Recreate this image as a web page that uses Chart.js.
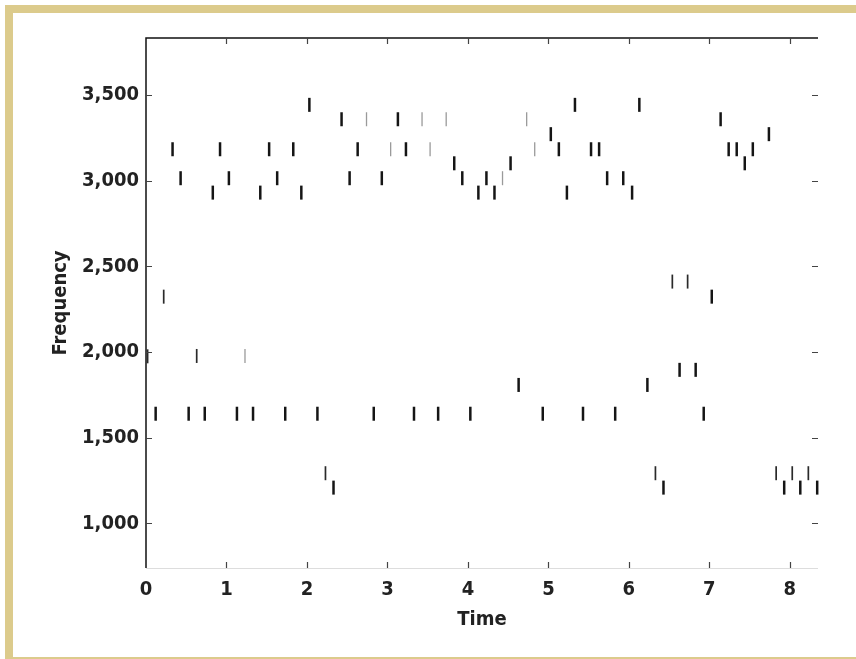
<!DOCTYPE html>
<html>
<head>
<meta charset="utf-8">
<script src="https://cdn.jsdelivr.net/npm/chart.js@4"></script>
<style>
  body { margin: 0; background: #fff; }
  canvas { display: block; }
</style>
</head>
<body>
<canvas id="chart" width="856" height="659"></canvas>
<script>
// tick values for both axes
const xTickValues = [0, 1, 2, 3, 4, 5, 6, 7, 8];
const yTickValues = [1000, 1500, 2000, 2500, 3000, 3500];

// strong (dark) note marks
const strongTime = [0.12, 0.33, 0.43, 0.53, 0.73, 0.83, 0.92, 1.03, 1.13, 1.33, 1.42, 1.53, 1.63, 1.73,
  1.83, 1.93, 2.03, 2.13, 2.33, 2.43, 2.53, 2.63, 2.83, 2.93, 3.13, 3.23, 3.33, 3.63, 3.83, 3.93,
  4.03, 4.13, 4.23, 4.33, 4.53, 4.63, 4.93, 5.03, 5.13, 5.23, 5.33, 5.43, 5.53, 5.63, 5.73, 5.83,
  5.93, 6.04, 6.13, 6.23, 6.43, 6.63, 6.83, 6.93, 7.03, 7.14, 7.24, 7.34, 7.44, 7.54, 7.74, 7.93,
  8.13, 8.34];
const strongFreq = [1640, 3183, 3014, 1640, 1640, 2930, 3183, 3014, 1640, 1640, 2930, 3183, 3014, 1640,
  3183, 2930, 3442, 1640, 1209, 3358, 3014, 3183, 1640, 3014, 3358, 3183, 1640, 1640, 3101, 3014,
  1640, 2930, 3014, 2930, 3101, 1808, 1640, 3271, 3183, 2930, 3442, 1640, 3183, 3183, 3014, 1640,
  3014, 2930, 3442, 1808, 1209, 1896, 1896, 1640, 2323, 3358, 3183, 3183, 3101, 3183, 3271, 1209,
  1209, 1209];

// thinner marks
const mediumTime = [0.02, 0.22, 0.63, 2.23, 6.33, 6.54, 6.73, 7.83, 8.03, 8.23];
const mediumFreq = [1975, 2323, 1977, 1293, 1293, 2411, 2411, 1293, 1293, 1293];

// faint grey marks
const faintTime = [1.23, 2.74, 3.04, 3.43, 3.53, 3.73, 4.43, 4.73, 4.83];
const faintFreq = [1977, 3358, 3183, 3358, 3183, 3358, 3014, 3358, 3183];

function toPoints(times, freqs) {
  return times.map((t, i) => ({ x: t, y: freqs[i] }));
}

const labelFont = { family: "'Liberation Sans Narrow', 'DejaVu Sans Condensed', sans-serif", size: 20, weight: "bold" };

// tan frame around the figure
const framePlugin = {
  id: "frame",
  beforeDraw(chart) {
    const ctx = chart.ctx;
    ctx.save();
    ctx.fillStyle = "#dccb8c";
    ctx.fillRect(5, 5, 851, 8);
    ctx.fillRect(5, 5, 8, 654);
    ctx.fillRect(5, 657, 851, 2);
    ctx.restore();
  }
};

// axis lines and inward ticks on all four sides
const axesPlugin = {
  id: "axesBox",
  afterDatasetsDraw(chart) {
    const { ctx, chartArea: { left, right, top, bottom }, scales: { x, y } } = chart;
    ctx.save();
    ctx.lineWidth = 1;
    ctx.strokeStyle = "#dddddd";
    ctx.beginPath();
    ctx.moveTo(left, bottom + 0.5);
    ctx.lineTo(right, bottom + 0.5);
    ctx.stroke();

    ctx.strokeStyle = "#111";
    ctx.lineWidth = 1.5;
    ctx.beginPath();
    ctx.moveTo(left, bottom);
    ctx.lineTo(left, top);
    ctx.lineTo(right, top);
    ctx.stroke();

    ctx.lineWidth = 1.2;
    ctx.strokeStyle = "#444";
    ctx.beginPath();
    xTickValues.forEach(v => {
      if (v === 0) return;
      const px = Math.round(x.getPixelForValue(v)) + 0.5;
      ctx.moveTo(px, bottom);
      ctx.lineTo(px, bottom - 6);
      ctx.moveTo(px, top);
      ctx.lineTo(px, top + 6);
    });
    yTickValues.forEach(v => {
      const py = Math.round(y.getPixelForValue(v)) + 0.5;
      ctx.moveTo(left, py);
      ctx.lineTo(left + 6, py);
      ctx.moveTo(right, py);
      ctx.lineTo(right - 6, py);
    });
    ctx.stroke();
    ctx.restore();
  }
};

const markStyle = { pointStyle: "line", rotation: 90, radius: 7, hoverRadius: 7, clip: false, showLine: false };

new Chart(document.getElementById("chart"), {
  type: "scatter",
  data: {
    datasets: [
      Object.assign({ data: toPoints(faintTime, faintFreq), borderColor: "#9a9a9a", borderWidth: 1.3 }, markStyle),
      Object.assign({ data: toPoints(mediumTime, mediumFreq), borderColor: "#2a2a2a", borderWidth: 1.7 }, markStyle),
      Object.assign({ data: toPoints(strongTime, strongFreq), borderColor: "#151515", borderWidth: 2.5 }, markStyle)
    ]
  },
  options: {
    responsive: false,
    animation: false,
    layout: { padding: { left: 40, top: 38, right: 38, bottom: 0 } },
    plugins: { legend: { display: false }, tooltip: { enabled: false } },
    scales: {
      x: {
        type: "linear",
        min: 0,
        max: 8.35,
        grid: { display: false, drawTicks: false },
        border: { display: false },
        afterBuildTicks: axis => { axis.ticks = xTickValues.map(v => ({ value: v })); },
        afterFit: axis => { axis.height = 91; },
        ticks: { font: labelFont, color: "#222", padding: 10, maxRotation: 0 },
        title: { display: true, text: "Time", font: labelFont, color: "#222", padding: { top: 0, bottom: 27 } }
      },
      y: {
        type: "linear",
        min: 740,
        max: 3832,
        grid: { display: false, drawTicks: false },
        border: { display: false },
        afterBuildTicks: axis => { axis.ticks = yTickValues.map(v => ({ value: v })); },
        afterFit: axis => { axis.width = 106; },
        ticks: {
          font: labelFont,
          color: "#222",
          padding: 7,
          callback: v => v.toLocaleString("en-US")
        },
        title: { display: true, text: "Frequency", font: labelFont, color: "#222", padding: { top: 9, bottom: 0 } }
      }
    }
  },
  plugins: [framePlugin, axesPlugin]
});
</script>
</body>
</html>
